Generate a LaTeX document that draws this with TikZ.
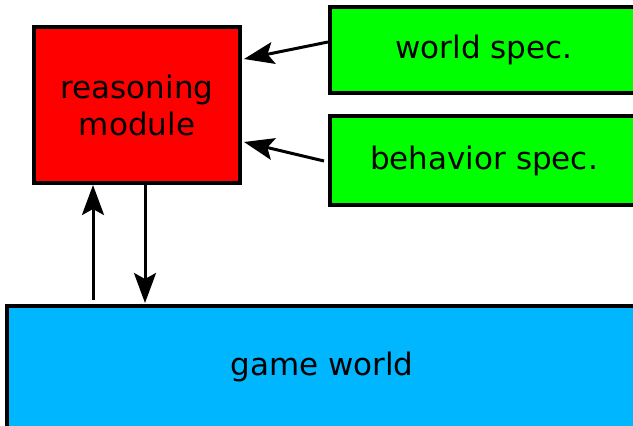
\documentclass[tikz,border=0pt]{standalone}
\usepackage{fontspec}
\setmainfont{DejaVu Sans}
\usetikzlibrary{arrows.meta}
\definecolor{redbox}{RGB}{255,0,0}
\definecolor{greenbox}{RGB}{0,255,0}
\definecolor{bluebox}{RGB}{0,182,255}
\begin{document}
\begin{tikzpicture}[x=1pt,y=-1pt,
  box/.style={draw=black,line width=3.5pt,inner sep=0pt,outer sep=0pt,anchor=north west},
  lbl/.style={font=\fontsize{31}{37}\selectfont,align=center,inner sep=0pt},
  arr/.style={line width=3pt,-{Stealth[length=30pt,width=22pt,inset=6pt]}}]
\useasboundingbox (0,0) rectangle (633,426);
\clip (0,0) rectangle (633,426);
\node[box,fill=redbox,minimum width=206pt,minimum height=156pt] (rm) at (34,27) {};
\node[box,fill=greenbox,minimum width=320pt,minimum height=86pt] (ws) at (330,7) {};
\node[box,fill=greenbox,minimum width=320pt,minimum height=89pt] (bs) at (330,116) {};
\node[box,fill=bluebox,minimum width=640pt,minimum height=130pt] (gw) at (7,306) {};
\node[lbl] (rmt) at (137,105) {reasoning\\module};
\node[lbl] (wst) at (484,50) {world spec.};
\node[lbl] (bst) at (484,161) {behavior spec.};
\node[lbl] (gwt) at (322,367) {game world};
\coordinate (a1s) at (328,42);
\coordinate (a1e) at (244,59);
\coordinate (a2s) at (324,161);
\coordinate (a2e) at (244,142);
\coordinate (u1s) at (93,300);
\coordinate (u1e) at (93,185);
\coordinate (d1s) at (145,185);
\coordinate (d1e) at (145,303);
\draw[arr] (a1s) -- (a1e);
\draw[arr] (a2s) -- (a2e);
\draw[arr] (u1s) -- (u1e);
\draw[arr] (d1s) -- (d1e);
\end{tikzpicture}
\end{document}
